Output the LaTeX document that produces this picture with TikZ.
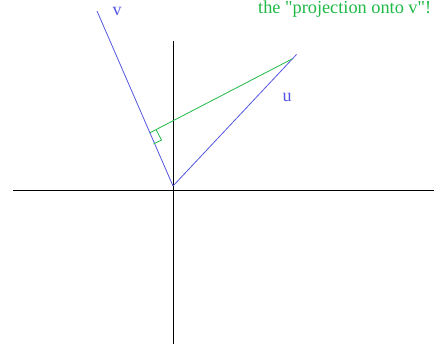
\documentclass[tikz,border=0pt]{standalone}
\usepackage{fontspec}
\setmainfont{Liberation Serif}
\newfontfamily\plainserif{Liberation Serif}
\definecolor{vecblue}{RGB}{85,85,225}
\definecolor{projgreen}{RGB}{30,185,70}
\begin{document}
\begin{tikzpicture}[x=1pt,y=-1pt,
  axis/.style={draw=black,line width=0.9pt},
  vec/.style={draw=vecblue,line width=0.8pt},
  proj/.style={draw=projgreen,line width=0.8pt},
  vlabel/.style={text=vecblue,font=\fontsize{18}{18}\selectfont,inner sep=0pt,anchor=base},
  title/.style={text=projgreen,font=\plainserif\fontsize{18.3}{18.3}\selectfont,inner sep=0pt,anchor=base west}]
\useasboundingbox (0,0) rectangle (434,345);
% axes
\coordinate (xl) at (13,190);
\coordinate (xr) at (434,190);
\coordinate (yt) at (173,41);
\coordinate (yb) at (173,344);
\draw[axis] (xl) -- (xr);
\draw[axis] (yt) -- (yb);
% vectors
\coordinate (O) at (173,186);
\coordinate (V) at (97,11);
\coordinate (U) at (296.5,54.5);
\draw[vec] (O) -- (V);
\draw[vec] (O) -- (U);
% projection
\coordinate (P) at (149.5,133);
\coordinate (G) at (292,59);
\draw[proj] (P) -- (G);
\coordinate (m1) at (156,129.5);
\coordinate (m2) at (161.5,140);
\coordinate (m3) at (153.5,144);
\draw[proj] (m1) -- (m2) -- (m3);
% labels
\node[vlabel] (vl) at (117,16) {v};
\node[vlabel] (ul) at (287,101) {u};
\node[title] (tt) at (258,13.5) {the "projection onto v"!};
\end{tikzpicture}
\end{document}
